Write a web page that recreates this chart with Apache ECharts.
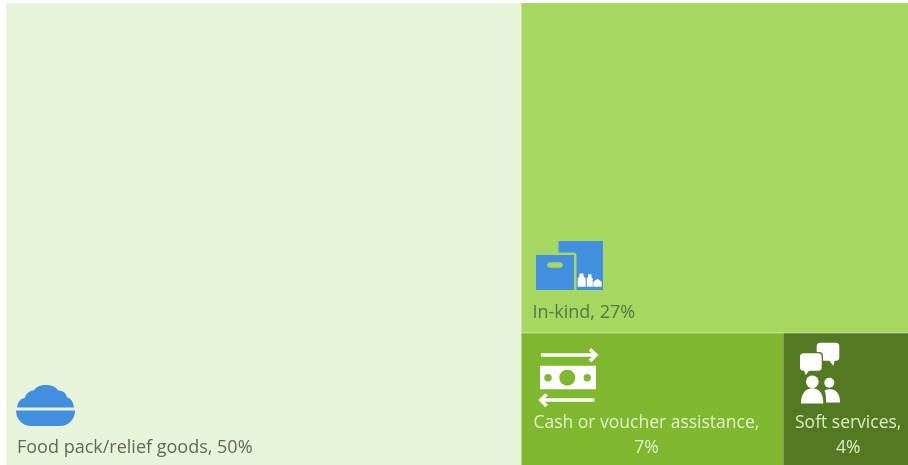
<!DOCTYPE html>
<html><head><meta charset="utf-8">
<style>html,body{margin:0;padding:0;background:#fff}#c{width:908px;height:465px}</style>
<script src="https://cdn.jsdelivr.net/npm/echarts@6/dist/echarts.min.js"></script>
</head><body><div id="c"></div>
<script>
const categories = ['Food pack/relief goods', 'In-kind', 'Cash or voucher assistance', 'Soft services'];
const shares = [50, 26.8, 7.25, 3.45];
const shareLabels = ['50%', '27%', '7%', '4%'];
const tileColors = ['#E7F4D9', '#A6D760', '#7FB72E', '#537A22'];
const textColors = ['#5E6B5A', '#55774A', '#E3F2CF', '#DCECC4'];
const labelBreak = [' ', ' ', '\n', '\n'];
const fontSizes = [18, 18, 17.5, 17.5];
const iconBlue = '#418FDE';
const chart = echarts.init(document.getElementById('c'));
const FONT = '"Open Sans", "Noto Sans", sans-serif';
const data = categories.map((n, i) => ({
  name: n, value: shares[i],
  itemStyle: { color: tileColors[i] },
  label: {
    formatter: n + ',' + labelBreak[i] + shareLabels[i],
    color: textColors[i],
    fontSize: fontSizes[i],
    position: i < 2 ? 'insideBottomLeft' : 'insideBottom',
    align: i < 2 ? 'left' : 'center',
    padding: i === 0 ? [0,0,5,11] : i === 1 ? [0,0,8,11] : i === 2 ? [0,12,4,0] : [0,0,4,5]
  }
}));
let pathId = 0;
const pathEl = (d, style) => {
  const name = 'iconPath' + (pathId++);
  echarts.graphic.registerShape(name, echarts.graphic.extendPath(d, {}));
  return { type: name, style, silent: true, z: 100 };
};
const p = (d, fill) => pathEl(d, { fill });
const stroke = (d, c) => pathEl(d, { fill: 'none', stroke: c, lineWidth: 3.5 });
const circ = (cx, cy, r, fill) => ({ type:'circle', shape:{ cx, cy, r }, style:{ fill }, silent:true, z:100 });
const rr = (x, y, width, height, r, fill) => ({ type:'rect', shape:{ x, y, width, height, r }, style:{ fill }, silent:true, z:100 });
const W = '#FFFFFF';
const icons = [
  p('M16 410.5H75C75 420 68 426 60 426H31C23 426 16 420 16 410.5Z', iconBlue),
  p('M17 407.5C18 401 21 398.5 25 398C26 393 30 390.5 34 390.5C36 386.5 41 385 46 385C51 385 56 386.5 58 390.5C63 390.5 66 393 67 397.5C71 398.5 73 401 74 407.5Z', iconBlue),
  rr(558.5, 241, 44.5, 49, 0, iconBlue),
  rr(534, 252.5, 42.5, 38, [0,3,0,0], '#A6D760'),
  rr(536, 255, 38, 35, 0, iconBlue),
  rr(547.3, 262.3, 15.4, 5.4, 2.7, '#A6D760'),
  p('M579.5 273.5H583.5V276L585.7 278.5V286.7H577.7V278.5L579.5 276Z', W),
  p('M588 274.3H591.5V277L592.7 278.5V286.7H586.7V278.5L588 277Z', W),
  p('M595.5 280L597.5 279L599.5 280L601.7 282V286.7H593.3V282Z', W),
  stroke('M541 355H595.5', W), stroke('M590 349.3L596 355L590 361', W),
  rr(540, 365.7, 56, 23.6, 0, W),
  circ(567.3, 377.7, 8, '#7FB72E'), circ(548, 377.7, 3.7, '#7FB72E'), circ(587.3, 377.7, 3.7, '#7FB72E'),
  stroke('M541.5 400H594.3', W), stroke('M546.7 394.3L540.8 400L546.7 406', W),
  rr(816.7, 342.7, 22.6, 18, 3.5, W),
  p('M828 359L833.3 365.7L835 359Z', W),
  rr(798.7, 352, 24.3, 20, 4, '#537A22'),
  rr(800, 353.3, 21.7, 17.4, 3.5, W),
  p('M803.5 369L805.7 375L810.5 369Z', W),
  circ(812.3, 381.7, 6.3, W),
  p('M801 403.5C801 393 806 388.3 812.3 388.3C819 388.3 823.3 393 823.3 403.5Z', W),
  circ(829.3, 382.7, 5, W),
  p('M824.5 390.5C826 389.7 828 389.3 830 389.3C836 389.3 840 393.5 840 402.5H826C826 397 826 393 824.5 390.5Z', W),
  { type:'line', shape:{ x1:522, y1:332.5, x2:908, y2:332.5 }, style:{ stroke:'#B9E08A', lineWidth:1 }, silent:true, z:100 }
];
chart.setOption({
  animation: false,
  tooltip: { show: false },
  series: [{
    type: 'treemap',
    left: 6, top: 3, right: 0, bottom: 0,
    roam: false, nodeClick: false,
    breadcrumb: { show: false },
    label: { show: true, fontFamily: FONT, fontSize: 18, lineHeight: 25 },
    upperLabel: { show: false },
    itemStyle: { borderWidth: 0, gapWidth: 0 },
    levels: [{ itemStyle: { gapWidth: 0, borderWidth: 0 } }],
    data
  }],
  graphic: { elements: icons }
});
</script></body></html>
